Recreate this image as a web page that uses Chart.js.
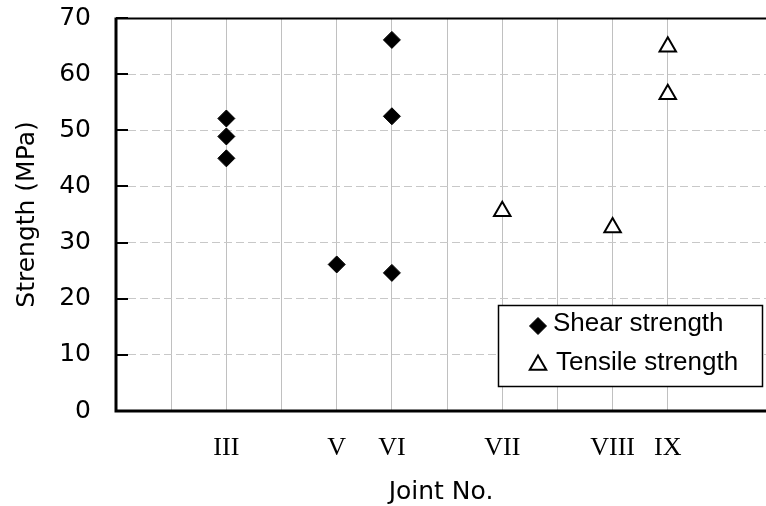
<!DOCTYPE html>
<html>
<head>
<meta charset="utf-8">
<script src="https://cdn.jsdelivr.net/npm/chart.js@4.4.1/dist/chart.umd.min.js"></script>
<style>
  html, body { margin: 0; padding: 0; background: #fff; }
  #wrap { width: 766px; height: 506px; }
</style>
</head>
<body>
<div id="wrap"><canvas id="myChart" width="766" height="506"></canvas></div>
<script>
// joint labels and where they sit on the x axis
const jointLabels = ["III", "V", "VI", "VII", "VIII", "IX"];
const jointPos = [2, 4, 5, 7, 9, 10];

// shear strength (MPa)
const shearJoint = ["III", "III", "III", "V", "VI", "VI", "VI"];
const shearValues = [52.1, 48.9, 45.0, 26.1, 66.1, 52.5, 24.6];

// tensile strength (MPa)
const tensileJoint = ["VII", "VIII", "IX", "IX"];
const tensileValues = [35.6, 32.7, 64.9, 56.4];

const yTicks = [0, 10, 20, 30, 40, 50, 60, 70];

const SANS = "'Liberation Sans', Arial, sans-serif";
const WIDE = "'DejaVu Sans', Arial, sans-serif";
const SERIF = "'Liberation Serif', 'Times New Roman', serif";

function toPoints(joints, values) {
  return joints.map((j, i) => ({ x: jointPos[jointLabels.indexOf(j)], y: values[i] }));
}

// frame, inner ticks on y, and the boxed legend
const framePlugin = {
  id: "frame",
  beforeDatasetsDraw(chart) {
    const { ctx, chartArea: a } = chart;
    const ys = chart.scales.y;
    ctx.save();
    ctx.setLineDash([]);
    ctx.strokeStyle = "#000";
    ctx.lineWidth = 2;
    ctx.beginPath();
    ctx.moveTo(a.left, a.top + 0.5);
    ctx.lineTo(a.right, a.top + 0.5);
    ctx.stroke();
    ctx.lineWidth = 3;
    ctx.beginPath();
    ctx.moveTo(a.left, a.top - 0.5);
    ctx.lineTo(a.left, a.bottom + 1.5);
    ctx.moveTo(a.left - 1.5, a.bottom);
    ctx.lineTo(a.right, a.bottom);
    ctx.stroke();
    ctx.lineWidth = 2;
    ys.ticks.forEach(t => {
      const py = Math.round(ys.getPixelForValue(t.value));
      ctx.beginPath();
      ctx.moveTo(a.left, py);
      ctx.lineTo(a.left + 12, py);
      ctx.stroke();
    });
    ctx.restore();
  },
  afterDraw(chart) {
    const { ctx } = chart;
    ctx.save();
    ctx.setLineDash([]);
    ctx.fillStyle = "#fff";
    ctx.strokeStyle = "#000";
    ctx.lineWidth = 1.5;
    ctx.fillRect(498.5, 305.5, 264, 81);
    ctx.strokeRect(498.5, 305.5, 264, 81);
    const rows = [[326, 553], [365, 556]];
    chart.data.datasets.forEach((ds, i) => {
      const [cy, tx] = rows[i];
      ctx.fillStyle = ds.pointBackgroundColor;
      ctx.strokeStyle = ds.pointBorderColor;
      ctx.lineWidth = ds.pointBorderWidth;
      Chart.helpers.drawPoint(ctx, {
        pointStyle: ds.pointStyle, radius: ds.pointRadius, rotation: 0,
        borderWidth: ds.pointBorderWidth
      }, 538, cy);
      ctx.fillStyle = "#000";
      ctx.font = "26px " + SANS;
      ctx.textBaseline = "middle";
      ctx.fillText(ds.label, tx, cy - 2);
    });
    ctx.restore();
  }
};

new Chart(document.getElementById("myChart"), {
  type: "scatter",
  data: {
    datasets: [{
      label: "Shear strength",
      data: toPoints(shearJoint, shearValues),
      pointStyle: "rectRot",
      pointRadius: 8.5,
      pointBackgroundColor: "#000",
      pointBorderColor: "#000",
      pointBorderWidth: 1
    }, {
      label: "Tensile strength",
      data: toPoints(tensileJoint, tensileValues),
      pointStyle: "triangle",
      pointRadius: 9.5,
      pointBackgroundColor: "#fff",
      pointBorderColor: "#000",
      pointBorderWidth: 2
    }]
  },
  options: {
    responsive: false,
    animation: false,
    events: [],
    layout: { autoPadding: false, padding: { top: 18, right: 0, left: 0, bottom: 0 } },
    plugins: { legend: { display: false }, tooltip: { enabled: false } },
    scales: {
      x: {
        type: "linear",
        min: 0,
        max: 11.78,
        afterFit: s => { s.height = 95; s.paddingLeft = 0; s.paddingRight = 0; },
        border: { display: false },
        grid: {
          drawTicks: false,
          lineWidth: 1,
          color: c => (Number.isInteger(c.tick.value) && c.tick.value >= 1) ? "#c0c0c0" : "rgba(0,0,0,0)"
        },
        ticks: {
          stepSize: 1,
          autoSkip: false,
          maxRotation: 0,
          padding: 22,
          color: "#000",
          font: { family: SERIF, size: 26 },
          callback: v => {
            const k = jointPos.indexOf(v);
            return k >= 0 ? jointLabels[k] : "";
          }
        },
        title: {
          display: true,
          text: "Joint No.",
          color: "#000",
          font: { family: WIDE, size: 25 },
          padding: { top: 0, bottom: -1 }
        }
      },
      y: {
        min: 0,
        max: 70,
        afterFit: s => { s.width = 116; s.paddingTop = 0; s.paddingBottom = 0; },
        afterBuildTicks: s => { s.ticks = yTicks.map(v => ({ value: v })); },
        border: { display: false, dash: [8, 4] },
        grid: {
          drawTicks: false,
          lineWidth: 1,
          color: c => (c.tick.value > 0 && c.tick.value < 70) ? "#c8c8c8" : "rgba(0,0,0,0)"
        },
        ticks: {
          padding: 25,
          color: "#000",
          font: { family: WIDE, size: 25 }
        },
        title: {
          display: true,
          text: "Strength (MPa)",
          color: "#000",
          font: { family: WIDE, size: 25 },
          padding: { top: 12, bottom: 0 }
        }
      }
    }
  },
  plugins: [framePlugin]
});
</script>
</body>
</html>
